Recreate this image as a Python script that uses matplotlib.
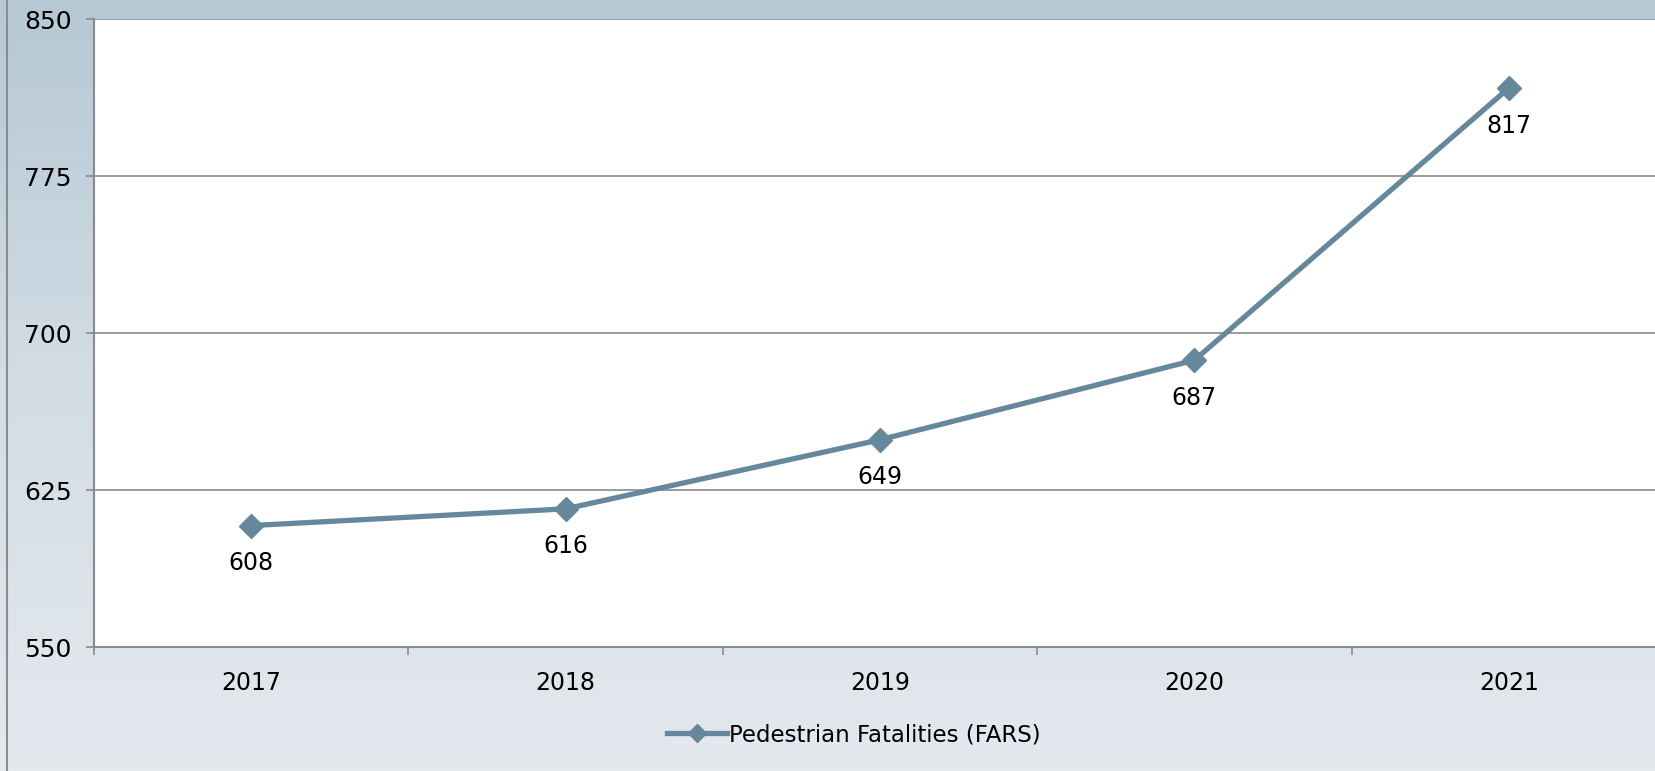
import numpy as np
import matplotlib
matplotlib.use("Agg")
import matplotlib.pyplot as plt
from matplotlib.colors import LinearSegmentedColormap
from matplotlib.lines import Line2D

years = ["2017", "2018", "2019", "2020", "2021"]
fatalities = [608, 616, 649, 687, 817]
y_ticks = [550, 625, 700, 775, 850]

plt.rcParams["font.family"] = ["DejaVu Sans"]

fig = plt.figure(figsize=(16.56, 7.71), dpi=100)

# gradient background over the whole figure
bg = fig.add_axes([0, 0, 1, 1], zorder=-10)
grad = np.linspace(0, 1, 256).reshape(-1, 1)
cmap = LinearSegmentedColormap.from_list("bg", ["#b5c8d4", "#d3dde5", "#e4e9ee"])
bg.imshow(grad, aspect="auto", cmap=cmap, extent=[0, 1, 0, 1], origin="upper")
bg.axis("off")

# left border of the chart frame
fig.add_artist(Line2D([0.0042, 0.0042], [0, 1], color="#8c8c8c", lw=1.5,
                      transform=fig.transFigure))

ax = fig.add_axes([94 / 1656, 1 - 647 / 771, 1572 / 1656, 628 / 771])
ax.set_facecolor("white")

x = np.arange(len(years)) + 0.5
ax.plot(x, fatalities, color="#66889c", lw=3.8, marker="D", markersize=12,
        label="Pedestrian Fatalities (FARS)", zorder=3)

for xi, v in zip(x, fatalities):
    ax.annotate(str(v), (xi, v), xytext=(0, -27), textcoords="offset points",
                ha="center", va="center", fontsize=17, color="black")

ax.set_xlim(0, 5)
ax.set_ylim(550, 850)
ax.set_yticks(y_ticks)
ax.set_yticklabels([str(t) for t in y_ticks])
ax.yaxis.grid(True, color="#8a8a8a", lw=1.2)
ax.set_axisbelow(True)

ax.set_xticks(np.arange(0, 6))
ax.set_xticklabels([])
ax.set_xticks(x, minor=True)
ax.set_xticklabels(years, minor=True)
ax.tick_params(axis="x", which="minor", length=0, labelsize=17, pad=17)
ax.tick_params(axis="x", which="major", length=6, width=1.2, color="#8a8a8a")
ax.tick_params(axis="y", length=6, width=1.2, color="#8a8a8a", labelsize=18, pad=10)

for s in ["top", "right"]:
    ax.spines[s].set_visible(False)
for s in ["left", "bottom"]:
    ax.spines[s].set_color("#8a8a8a")
    ax.spines[s].set_linewidth(1.5)

fig.legend(loc="center", bbox_to_anchor=(854 / 1656, 1 - 735 / 771), frameon=False,
           fontsize=16.5, handlelength=2.6, handletextpad=0.1, markerscale=0.8)

fig.savefig("out.png", dpi=100)
